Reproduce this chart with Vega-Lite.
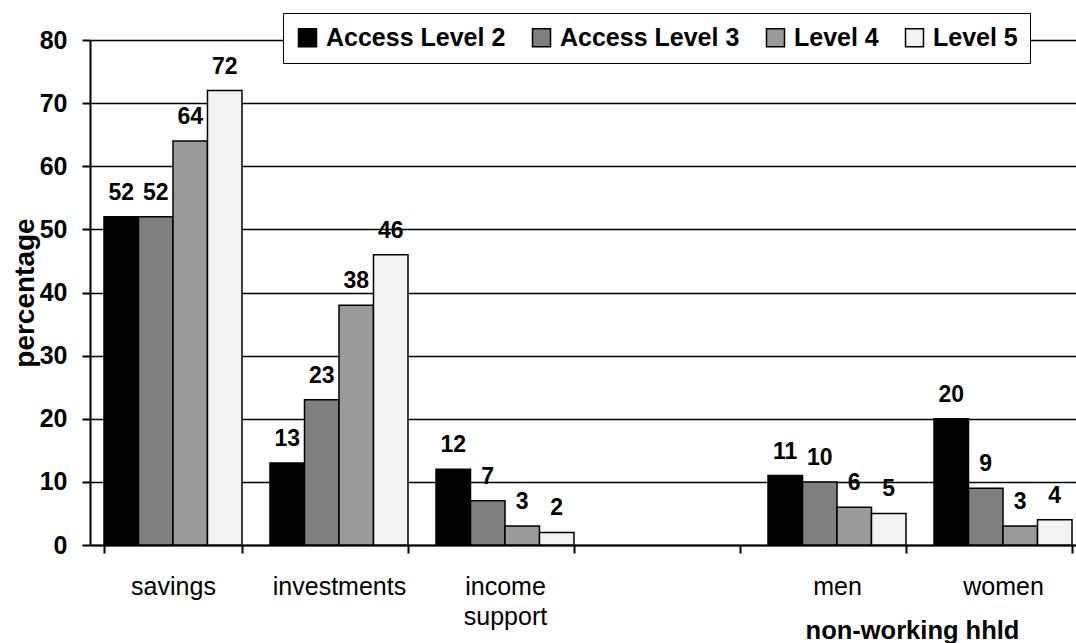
{
  "$schema": "https://vega.github.io/schema/vega-lite/v6.json",
  "width": 986,
  "height": 505,
  "autosize": "none",
  "padding": {"left": 90, "top": 40, "right": 0, "bottom": 98},
  "background": "white",
  "config": {"view": {"stroke": null}, "font": "Liberation Sans", "text": {"font": "Liberation Sans"}},
  "data": {"values": [
    {"category": "savings", "level": "Access Level 2", "value": 52},
    {"category": "savings", "level": "Access Level 3", "value": 52},
    {"category": "savings", "level": "Level 4", "value": 64},
    {"category": "savings", "level": "Level 5", "value": 72},
    {"category": "investments", "level": "Access Level 2", "value": 13},
    {"category": "investments", "level": "Access Level 3", "value": 23},
    {"category": "investments", "level": "Level 4", "value": 38},
    {"category": "investments", "level": "Level 5", "value": 46},
    {"category": "income support", "level": "Access Level 2", "value": 12},
    {"category": "income support", "level": "Access Level 3", "value": 7},
    {"category": "income support", "level": "Level 4", "value": 3},
    {"category": "income support", "level": "Level 5", "value": 2},
    {"category": "men", "level": "Access Level 2", "value": 11},
    {"category": "men", "level": "Access Level 3", "value": 10},
    {"category": "men", "level": "Level 4", "value": 6},
    {"category": "men", "level": "Level 5", "value": 5},
    {"category": "women", "level": "Access Level 2", "value": 20},
    {"category": "women", "level": "Access Level 3", "value": 9},
    {"category": "women", "level": "Level 4", "value": 3},
    {"category": "women", "level": "Level 5", "value": 4}
  ]},
  "encoding": {
    "x": {
      "field": "category", "type": "nominal",
      "scale": {"domain": ["savings", "investments", "income support", "blank", "men", "women"], "range": [0, 996], "paddingInner": 0.1687, "paddingOuter": 0.0843},
      "axis": {
        "title": "non-working hhld", "titleX": 822, "titleY": 93, "titleBaseline": "alphabetic", "titleAlign": "center",
        "titleFontSize": 25.5, "titleFontWeight": "bold", "titleColor": "black", "titleFont": "Liberation Sans",
        "labelAngle": 0, "labelFontSize": 25, "labelColor": "black", "labelFont": "Liberation Sans", "labelPadding": 21, "labelLineHeight": 30, "labelOverlap": false, "labelBaseline": "top",
        "labelExpr": "datum.value == 'income support' ? ['income', 'support'] : (datum.value == 'blank' ? '' : datum.value)",
        "tickBand": "extent", "tickSize": 8, "tickWidth": 2, "tickColor": "black",
        "domainColor": "black", "domainWidth": 2, "grid": false
      }
    },
    "xOffset": {"field": "level", "type": "nominal", "scale": {"paddingInner": 0, "paddingOuter": 0}},
    "y": {
      "field": "value", "type": "quantitative",
      "scale": {"domain": [0, 80], "nice": false},
      "axis": {
        "title": "percentage", "titleFontSize": 28, "titleFontWeight": "bold", "titleColor": "black", "titleFont": "Liberation Sans", "titlePadding": 0,
        "values": [0, 10, 20, 30, 40, 50, 60, 70, 80],
        "labelFontSize": 25, "labelFontWeight": "bold", "labelColor": "black", "labelFont": "Liberation Sans", "labelPadding": 15,
        "tickSize": 8, "tickWidth": 2, "tickColor": "black",
        "domainColor": "black", "domainWidth": 2,
        "grid": true, "gridColor": "black", "gridWidth": 1.5
      }
    }
  },
  "layer": [
    {
      "mark": {"type": "bar", "stroke": "black", "strokeWidth": 1.5, "opacity": 1},
      "encoding": {
        "fill": {
          "field": "level", "type": "nominal",
          "scale": {"domain": ["Access Level 2", "Access Level 3", "Level 4", "Level 5"], "range": ["#000000", "#7f7f7f", "#9a9a9a", "#f2f2f2"]},
          "legend": {
            "orient": "none", "legendX": 193, "legendY": -27, "direction": "horizontal", "columns": 4, "title": null,
            "fillColor": "white", "strokeColor": "black", "padding": 12,
            "labelFontSize": 25, "labelFontWeight": "bold", "labelColor": "black", "labelFont": "Liberation Sans", "labelLimit": 0,
            "symbolType": "square", "symbolSize": 324, "symbolStrokeColor": "black", "symbolStrokeWidth": 1.5, "symbolOpacity": 1,
            "labelOffset": 6, "columnPadding": 23
          }
        }
      }
    },
    {
      "mark": {"type": "text", "dy": -17, "baseline": "alphabetic", "fontSize": 23, "fontWeight": "bold", "color": "black", "font": "Liberation Sans"},
      "encoding": {"text": {"field": "value", "type": "quantitative"}}
    }
  ]
}
